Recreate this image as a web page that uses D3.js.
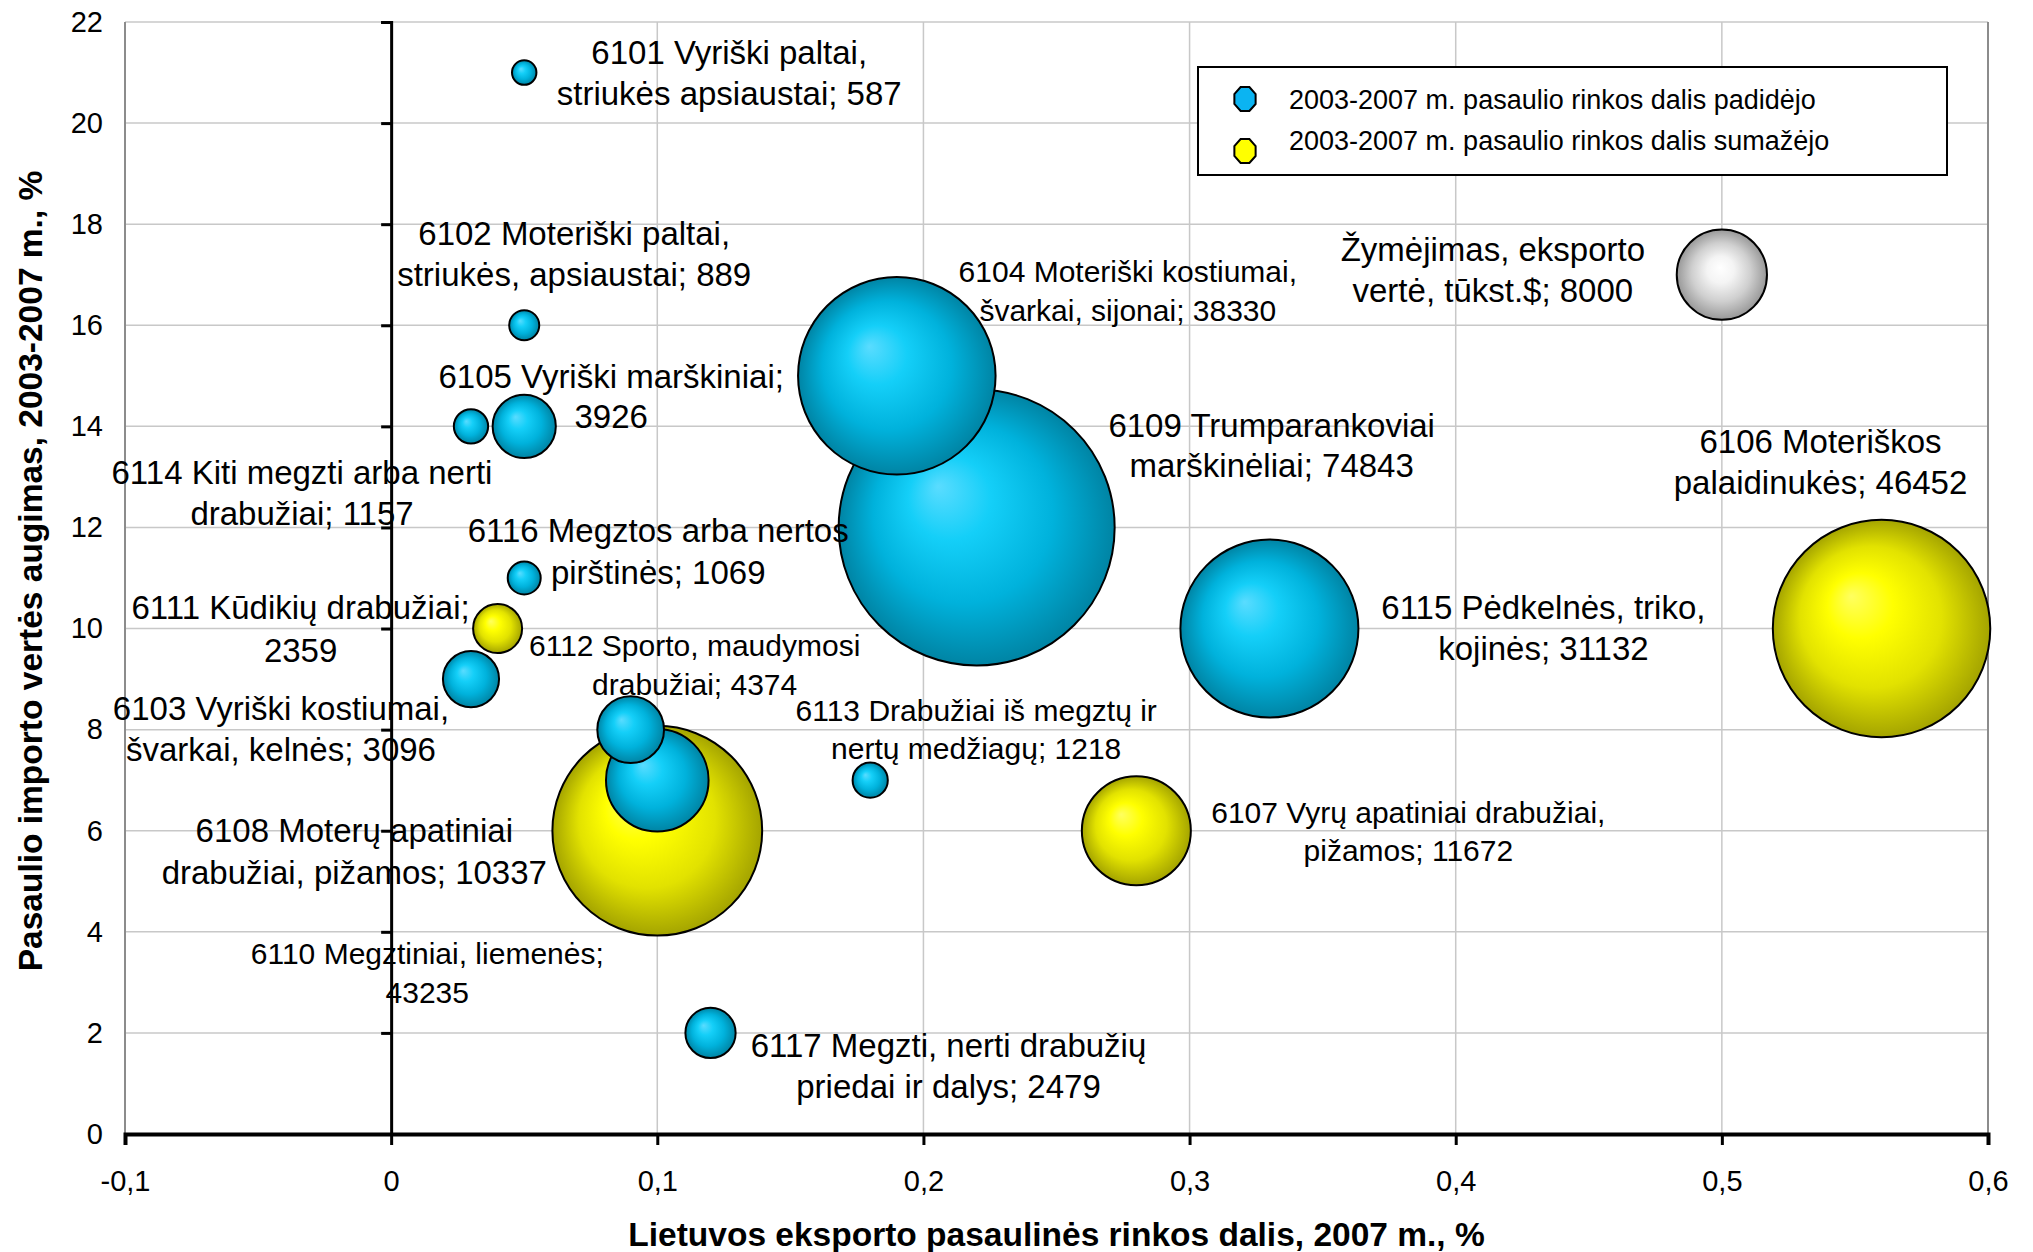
<!DOCTYPE html>
<html>
<head>
<meta charset="utf-8">
<script src="https://cdn.jsdelivr.net/npm/d3@7"></script>
<style>
  body { margin: 0; background: #fff; }
  svg { display: block; font-family: "Liberation Sans", Arial, sans-serif; }
</style>
</head>
<body>
<div id="chart"></div>
<script>
// ---- data ----
const codes = ["6101", "6102", "6105", "6114", "6116", "6111", "6103", "6112", "6108",
               "6110", "6113", "6104", "6109", "6115", "6107", "6106", "6117", "key"];
const labelLine1 = ["6101 Vyriški paltai,", "6102 Moteriški paltai,", "6105 Vyriški marškiniai;",
  "6114 Kiti megzti arba nerti", "6116 Megztos arba nertos", "6111 Kūdikių drabužiai;",
  "6103 Vyriški kostiumai,", "6112 Sporto, maudymosi", "6108 Moterų apatiniai",
  "6110 Megztiniai, liemenės;", "6113 Drabužiai iš megztų ir", "6104 Moteriški kostiumai,",
  "6109 Trumparankoviai", "6115 Pėdkelnės, triko,", "6107 Vyrų apatiniai drabužiai,",
  "6106 Moteriškos", "6117 Megzti, nerti drabužių", "Žymėjimas, eksporto"];
const labelLine2 = ["striukės apsiaustai;", "striukės, apsiaustai;", "", "drabužiai;",
  "pirštinės;", "", "švarkai, kelnės;", "drabužiai;", "drabužiai, pižamos;", "",
  "nertų medžiagų;", "švarkai, sijonai;", "marškinėliai;", "kojinės;", "pižamos;",
  "palaidinukės;", "priedai ir dalys;", "vertė, tūkst.$;"];
const marketShare = [0.05, 0.05, 0.05, 0.03, 0.05, 0.04, 0.03, 0.09, 0.10,
                     0.10, 0.18, 0.19, 0.22, 0.33, 0.28, 0.56, 0.12, 0.50];
const importGrowth = [21, 16, 14, 14, 11, 10, 9, 8, 7, 6, 7, 15, 12, 10, 6, 10, 2, 17];
const exportValue = [587, 889, 3926, 1157, 1069, 2359, 3096, 4374, 10337,
                     43235, 1218, 38330, 74843, 31132, 11672, 46452, 2479, 8000];
const shareChange = ["up", "up", "up", "up", "up", "down", "up", "up", "up",
                     "down", "up", "up", "up", "up", "down", "down", "up", "key"];

const xTicks = [-0.1, 0, 0.1, 0.2, 0.3, 0.4, 0.5, 0.6];
const yTicks = [0, 2, 4, 6, 8, 10, 12, 14, 16, 18, 20, 22];
const legendLabels = ["2003-2007 m. pasaulio rinkos dalis padidėjo",
                      "2003-2007 m. pasaulio rinkos dalis sumažėjo"];
const legendKeys = ["up", "down"];

// label placement relative to bubble centre: [dx, dy, font size, line gap]
const labelLayout = {
  "6101": [205, -20, 33, 41], "6102": [50, -92, 33, 41], "6105": [87, -50, 33, 40],
  "6114": [-169, 46, 33, 41], "6116": [134, -48, 33, 42], "6111": [-197, -21, 33, 43],
  "6103": [-190, 29, 33, 41], "6112": [64, -84, 30, 39], "6108": [-303, 50, 33, 42],
  "6110": [-230, 122, 30, 39], "6113": [106, -70, 30, 38], "6104": [231, -105, 30, 39],
  "6109": [295, -102, 33, 40], "6115": [274, -21, 33, 41], "6107": [272, -19, 30, 38],
  "6106": [-61, -187, 33, 41], "6117": [238, 12, 33, 41], "key": [-229, -26, 33, 41]
};

const width = 2033, height = 1252;
const plotLeft = 125, plotRight = 1988, plotTop = 22, plotBottom = 1134;

const locale = d3.formatLocale({decimal: ",", thousands: " ", grouping: [3], currency: ["", ""], minus: "-"});
const fmt = locale.format("");

const x = d3.scaleLinear().domain([-0.1, 0.6]).range([plotLeft, plotRight]);
const y = d3.scaleLinear().domain([0, 22]).range([plotBottom, plotTop]);
const r = d3.scaleSqrt().domain([0, d3.max(exportValue)]).range([0, 138]);

const svg = d3.select("#chart").append("svg")
    .attr("width", width)
    .attr("height", height);

// gradients
const defs = svg.append("defs");
const gradStops = {
  up:   [["0", "#5adcff"], ["0.3", "#14cff8"], ["0.65", "#00b2dc"], ["1", "#0084a4"]],
  down: [["0", "#ffff60"], ["0.3", "#ffff00"], ["0.65", "#e2e200"], ["1", "#a4a400"]],
  key:  [["0", "#ffffff"], ["0.3", "#f4f4f4"], ["0.65", "#cfcfcf"], ["1", "#989898"]]
};
Object.keys(gradStops).forEach(k => {
  const g = defs.append("radialGradient")
      .attr("id", "grad-" + k)
      .attr("cx", 0.5).attr("cy", 0.5).attr("r", 0.5)
      .attr("fx", k === "key" ? 0.48 : 0.36).attr("fy", k === "key" ? 0.42 : 0.35);
  gradStops[k].forEach(s => g.append("stop").attr("offset", s[0]).attr("stop-color", s[1]));
});

// gridlines
svg.append("g")
  .selectAll("line")
  .data(yTicks.filter(d => d > 0))
  .join("line")
    .attr("x1", plotLeft).attr("x2", plotRight)
    .attr("y1", d => y(d)).attr("y2", d => y(d))
    .attr("stroke", "#c8c8c8")
    .attr("stroke-width", 1.5);

svg.append("g")
  .selectAll("line")
  .data(xTicks.filter(d => d > 0 && d < 0.6))
  .join("line")
    .attr("x1", d => x(d)).attr("x2", d => x(d))
    .attr("y1", plotTop).attr("y2", plotBottom)
    .attr("stroke", "#c8c8c8")
    .attr("stroke-width", 1.5);

// plot borders left and right
svg.append("g")
  .selectAll("line")
  .data([-0.1, 0.6])
  .join("line")
    .attr("x1", d => x(d)).attr("x2", d => x(d))
    .attr("y1", plotTop).attr("y2", plotBottom)
    .attr("stroke", "#8c8c8c")
    .attr("stroke-width", 2);

// y axis through x = 0 (ticks only)
const yAxisLine = svg.append("g")
    .attr("transform", `translate(${x(0)},0)`)
    .call(d3.axisLeft(y).tickValues(yTicks).tickSize(10).tickFormat(""));
yAxisLine.select(".domain").attr("stroke", "#000").attr("stroke-width", 3);
yAxisLine.selectAll(".tick line").attr("stroke", "#000").attr("stroke-width", 3);

// y tick labels at the left edge
const yLabels = svg.append("g")
    .attr("transform", `translate(${plotLeft},0)`)
    .call(d3.axisLeft(y).tickValues(yTicks).tickSize(0).tickPadding(22).tickFormat(fmt));
yLabels.select(".domain").remove();
yLabels.selectAll("text")
    .attr("font-size", 29)
    .attr("font-family", "Liberation Sans, Arial, sans-serif")
    .attr("fill", "#000");

// x axis
const xAxis = svg.append("g")
    .attr("transform", `translate(0,${y(0)})`)
    .call(d3.axisBottom(x).tickValues(xTicks).tickSize(11).tickPadding(25).tickFormat(fmt));
xAxis.select(".domain").attr("stroke", "#000").attr("stroke-width", 4);
xAxis.selectAll(".tick line").attr("stroke", "#000").attr("stroke-width", 3);
xAxis.selectAll("text")
    .attr("font-size", 29)
    .attr("font-family", "Liberation Sans, Arial, sans-serif")
    .attr("fill", "#000");

// bubbles, biggest first so small ones stay visible
const rows = codes.map((c, i) => ({
  code: c, l1: labelLine1[i], l2: labelLine2[i],
  x: marketShare[i], y: importGrowth[i], v: exportValue[i], kind: shareChange[i]
}));

svg.append("g")
  .selectAll("circle")
  .data(rows.slice().sort((a, b) => b.v - a.v))
  .join("circle")
    .attr("cx", d => x(d.x))
    .attr("cy", d => y(d.y))
    .attr("r", d => r(d.v))
    .attr("fill", d => `url(#grad-${d.kind})`)
    .attr("stroke", "#000")
    .attr("stroke-width", 2);

// bubble labels
const labels = svg.append("g")
    .attr("text-anchor", "middle")
    .attr("fill", "#000")
  .selectAll("text")
  .data(rows)
  .join("text")
    .attr("font-size", d => labelLayout[d.code][2]);

labels.append("tspan")
    .attr("x", d => x(d.x) + labelLayout[d.code][0])
    .attr("y", d => y(d.y) + labelLayout[d.code][1] + 0.36 * labelLayout[d.code][2])
    .text(d => d.l1);
labels.append("tspan")
    .attr("x", d => x(d.x) + labelLayout[d.code][0])
    .attr("y", d => y(d.y) + labelLayout[d.code][1] + 0.36 * labelLayout[d.code][2] + labelLayout[d.code][3])
    .text(d => (d.l2 ? d.l2 + " " : "") + d.v);

// axis titles
svg.append("text")
    .attr("x", (plotLeft + plotRight) / 2)
    .attr("y", 1246)
    .attr("text-anchor", "middle")
    .attr("font-size", 33.5)
    .attr("font-weight", "bold")
    .text("Lietuvos eksporto pasaulinės rinkos dalis, 2007 m., %");

svg.append("text")
    .attr("transform", `translate(42,571) rotate(-90)`)
    .attr("text-anchor", "middle")
    .attr("font-size", 33.5)
    .attr("font-weight", "bold")
    .text("Pasaulio importo vertės augimas, 2003-2007 m., %");

// legend
const legend = svg.append("g");
legend.append("rect")
    .attr("x", 1198).attr("y", 67)
    .attr("width", 749).attr("height", 108)
    .attr("fill", "#fff")
    .attr("stroke", "#000")
    .attr("stroke-width", 2);

const legendColor = { up: "#0bb4f2", down: "#ffff00" };
// small octagon like the marker Excel draws in the legend
const octagon = d3.range(8).map(k => {
  const a = (k + 0.5) * Math.PI / 4;
  return [11.5 * Math.cos(a), 13 * Math.sin(a)];
});

const legendRow = legend.selectAll("g.row")
  .data(legendLabels)
  .join("g")
    .attr("class", "row")
    .attr("transform", (d, i) => `translate(0,${i === 0 ? 99 : 146})`);

legendRow.append("polygon")
    .attr("transform", (d, i) => `translate(1245,${i === 0 ? 0 : 5})`)
    .attr("points", octagon.map(p => p.join(",")).join(" "))
    .attr("fill", (d, i) => legendColor[legendKeys[i]])
    .attr("stroke", "#000")
    .attr("stroke-width", 2);

legendRow.append("text")
    .attr("x", 1289)
    .attr("y", (d, i) => i === 0 ? 10 : 4)
    .attr("font-size", 27)
    .text(d => d);
</script>
</body>
</html>
